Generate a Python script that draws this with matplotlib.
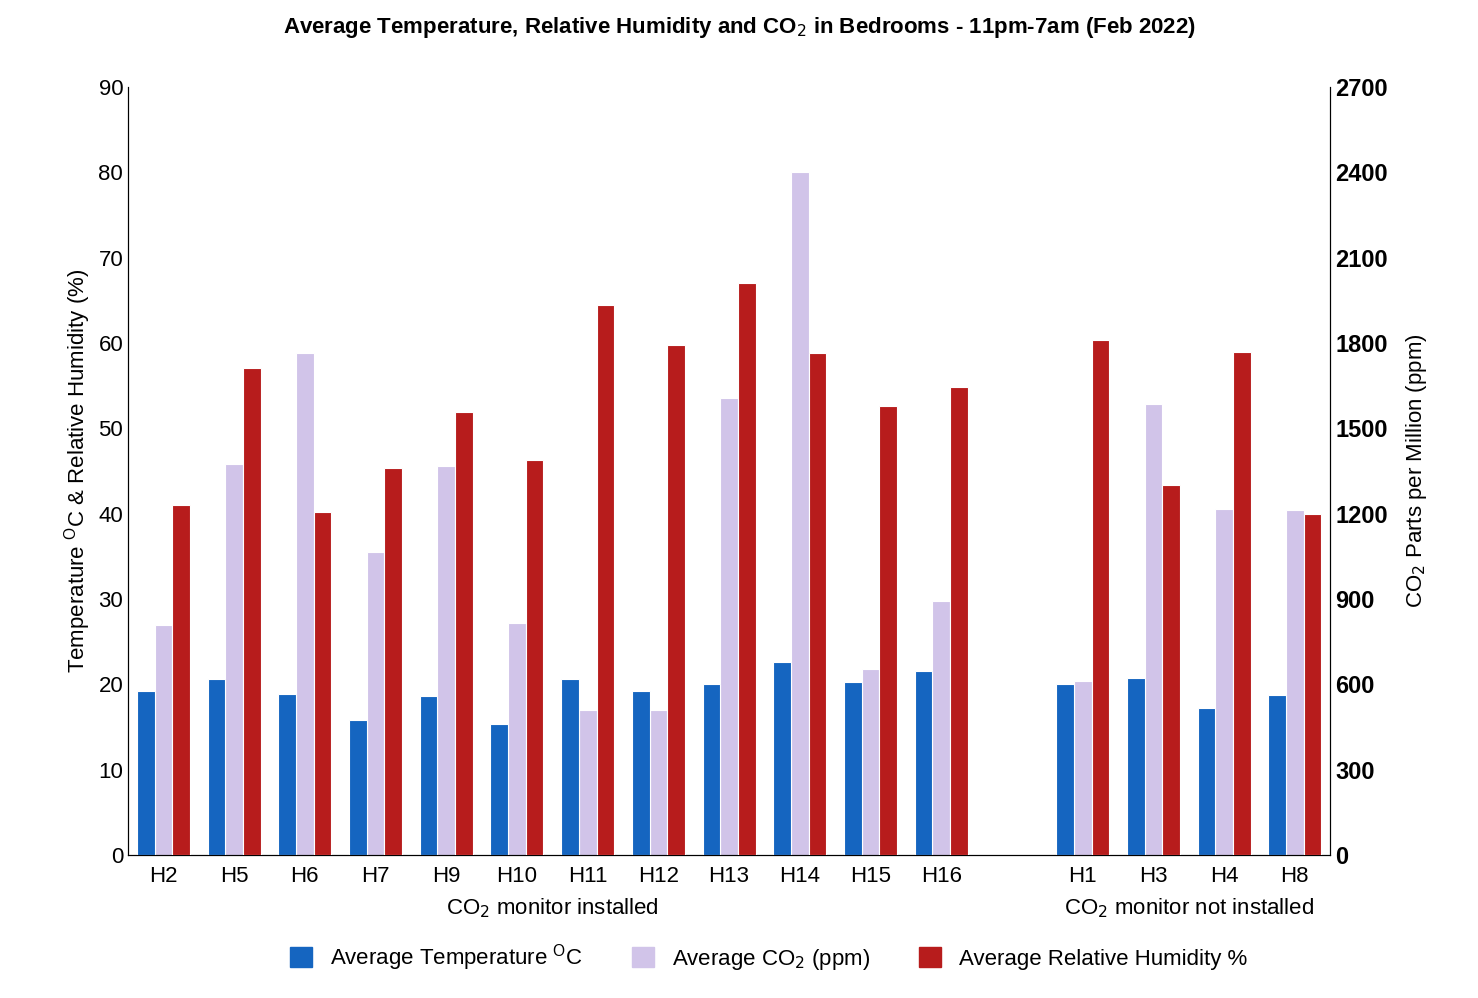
import matplotlib
matplotlib.use("Agg")
import matplotlib.pyplot as plt
import numpy as np
from matplotlib.patches import Patch

houses = ["H2","H5","H6","H7","H9","H10","H11","H12","H13","H14","H15","H16","H1","H3","H4","H8"]
temp = [19.2,20.6,18.9,15.8,18.6,15.4,20.6,19.2,20.0,22.6,20.3,21.6,20.0,20.8,17.2,18.8]
co2 = [810,1374,1764,1065,1368,816,510,510,1608,2400,654,894,612,1587,1215,1212]
rh = [41.0,57.1,40.2,45.4,51.9,46.3,64.5,59.8,67.0,58.8,52.6,54.8,60.3,43.4,58.9,40.0]

plt.rcParams['font.family'] = ['Liberation Sans', 'DejaVu Sans']
fig = plt.figure(figsize=(14.78, 9.98), dpi=100)
ax = fig.add_axes([0.0866, 0.1433, 0.8134, 0.7695])
ax2 = ax.twinx()
x = np.array(list(range(12)) + list(range(13, 17)), dtype=float)
w = 0.25
cb, cc, cr = "#1565C0", "#D1C4E9", "#B71C1C"
ax.bar(x - w, temp, w, color=cb, edgecolor="white", linewidth=0.8)
ax2.bar(x, co2, w, color=cc, edgecolor="white", linewidth=0.8)
ax.bar(x + w, rh, w, color=cr, edgecolor="white", linewidth=0.8, zorder=3)
ax.set_zorder(ax2.get_zorder() + 1)
ax.patch.set_visible(False)

ax.set_xlim(-0.5, 16.5)
ax.set_ylim(0, 90)
ax2.set_ylim(0, 2700)
ax.set_yticks(range(0, 91, 10))
ax2.set_yticks(range(0, 2701, 300))
ax.set_xticks(x)
ax.set_xticklabels(houses, fontsize=16)
ax.tick_params(axis='y', labelsize=16, length=0)
ax.tick_params(axis='x', length=0, pad=8)
ax2.tick_params(axis='y', length=0, labelsize=17)
for t in ax2.get_yticklabels():
    t.set_fontweight('bold')
for a in (ax, ax2):
    a.spines['top'].set_visible(False)
ax.set_ylabel("Temperature $^{\\mathregular{O}}$C & Relative Humidity (%)", fontsize=16)
ax2.set_ylabel("CO$_2$ Parts per Million (ppm)", fontsize=16, labelpad=12)
ax.text(5.5, -7.0, "CO$_2$ monitor installed", ha='center', fontsize=16)
ax.text(14.5, -7.0, "CO$_2$ monitor not installed", ha='center', fontsize=16)
fig.suptitle("Average Temperature, Relative Humidity and CO$_2$ in Bedrooms - 11pm-7am (Feb 2022)",
             y=0.985, fontsize=16, fontweight='bold')
handles = [Patch(color=cb), Patch(color=cc), Patch(color=cr)]
fig.legend(handles, ["Average Temperature $^{\\mathregular{O}}$C", "Average CO$_2$ (ppm)",
                     "Average Relative Humidity %"], loc='lower center', ncol=3,
           frameon=False, fontsize=16, bbox_to_anchor=(0.52, 0.005), columnspacing=2.2,
           handlelength=1, handleheight=1)
fig.savefig("out.png", dpi=100)
